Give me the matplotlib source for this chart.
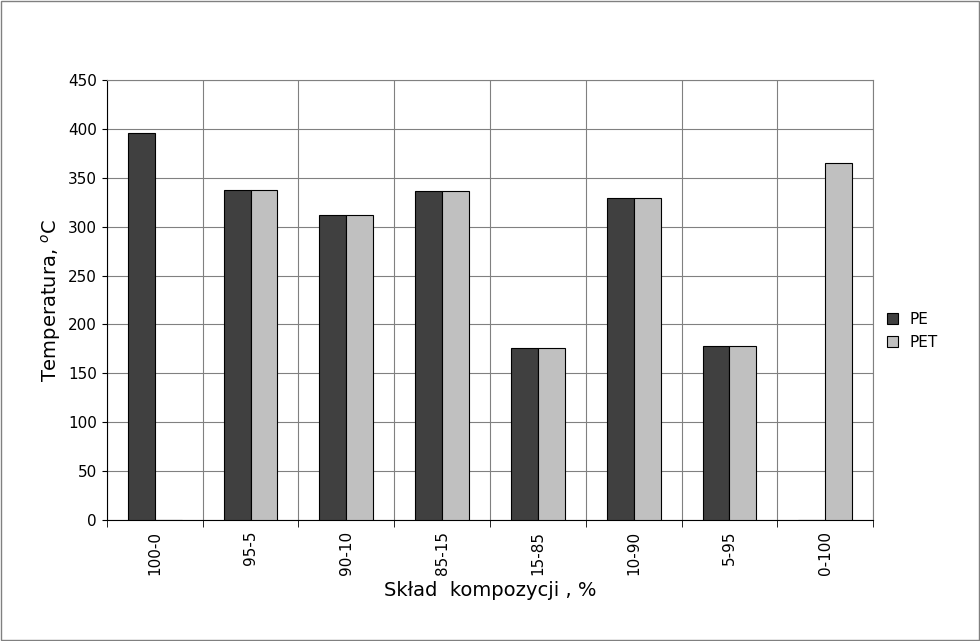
import matplotlib.pyplot as plt
import numpy as np

categories = ['100-0', '95-5', '90-10', '85-15', '15-85', '10-90', '5-95', '0-100']
pe = [396, 338, 312, 337, 176, 329, 178, 0]
pet = [0, 338, 312, 337, 176, 329, 178, 365]

fig = plt.figure(figsize=(9.8, 6.41), dpi=100)
ax = fig.add_axes([0.109, 0.189, 0.782, 0.686])
x = np.arange(len(categories))
w = 0.28
ax.bar(x - w / 2, pe, w, color='#404040', edgecolor='black', linewidth=0.8, label='PE', zorder=3)
ax.bar(x + w / 2, pet, w, color='#c0c0c0', edgecolor='black', linewidth=0.8, label='PET', zorder=3)

ax.set_xlim(-0.5, len(categories) - 0.5)
ax.set_ylim(0, 450)
ax.set_yticks(range(0, 451, 50))
ax.set_xticks(x)
ax.set_xticklabels(categories, rotation=90)
ax.set_xticks(np.arange(-0.5, len(categories)), minor=True)
ax.tick_params(axis='x', which='major', length=0, pad=8)
ax.tick_params(axis='x', which='minor', length=5)
ax.tick_params(labelsize=11)
ax.grid(True, axis='y', color='#808080', linewidth=0.8, zorder=0)
ax.grid(True, axis='x', which='minor', color='#808080', linewidth=0.8, zorder=0)
for s in ['top', 'right']:
    ax.spines[s].set_color('#808080')

ax.set_ylabel('Temperatura, $^{o}$C', fontsize=14)
ax.set_xlabel('Skład  kompozycji , %', fontsize=14)
ax.legend(loc='center left', bbox_to_anchor=(1.0, 0.43), frameon=False, fontsize=11,
          handlelength=0.7, handleheight=0.7)

fig.patches.append(plt.Rectangle((0.001, 0.001), 0.998, 0.998, transform=fig.transFigure,
                                 fill=False, edgecolor='#808080', linewidth=1))
fig.savefig('out.png', dpi=100)
